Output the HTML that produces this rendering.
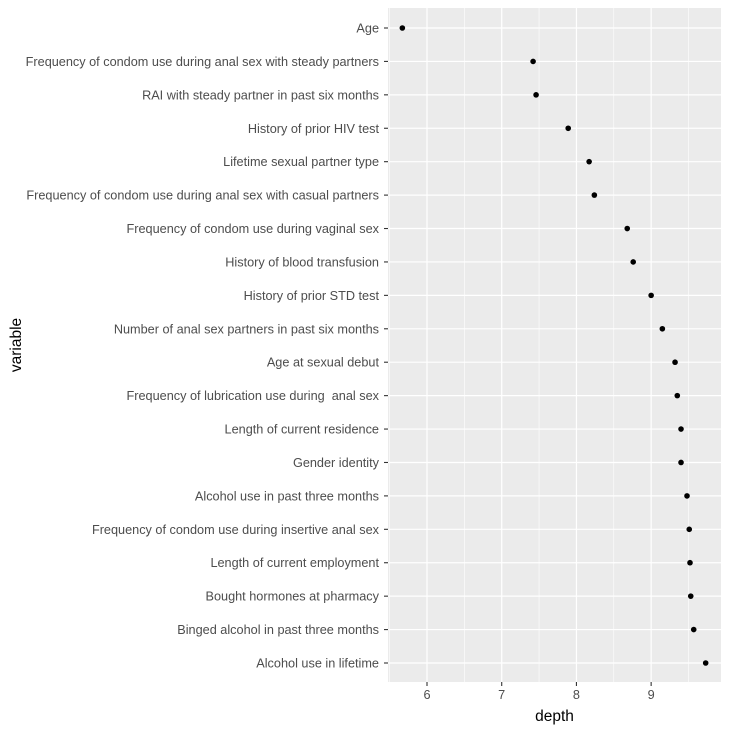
<!DOCTYPE html>
<html><head><meta charset="utf-8"><style>
body{margin:0;background:#fff;font-family:"Liberation Sans",sans-serif}
text{white-space:pre}
</style></head><body>
<svg id="chart" width="729" height="729" xmlns="http://www.w3.org/2000/svg"></svg>
<script>
const categories=["Age","Frequency of condom use during anal sex with steady partners","RAI with steady partner in past six months","History of prior HIV test","Lifetime sexual partner type","Frequency of condom use during anal sex with casual partners","Frequency of condom use during vaginal sex","History of blood transfusion","History of prior STD test","Number of anal sex partners in past six months","Age at sexual debut","Frequency of lubrication use during  anal sex","Length of current residence","Gender identity","Alcohol use in past three months","Frequency of condom use during insertive anal sex","Length of current employment","Bought hormones at pharmacy","Binged alcohol in past three months","Alcohol use in lifetime"];
const depthValues=[5.67,7.42,7.46,7.89,8.17,8.24,8.68,8.76,9.00,9.15,9.32,9.35,9.40,9.40,9.48,9.51,9.52,9.53,9.57,9.73];
const xTicks=[6,7,8,9];
const xMinor=[5.5,6.5,7.5,8.5,9.5];

const svg=document.getElementById('chart');
const NS="http://www.w3.org/2000/svg";
const L=388,R=721,T=8,B=682;
const xMin=5.478,xMax=9.935;
const x=v=>L+(v-xMin)/(xMax-xMin)*(R-L);
const step=(663-28)/(categories.length-1);
const y=i=>28+i*step;
function mk(tag,attrs,parent){const e=document.createElementNS(NS,tag);for(const k in attrs)e.setAttribute(k,attrs[k]);(parent||svg).appendChild(e);return e;}

const panel=mk('rect',{x:L,y:T,width:R-L,height:B-T,fill:'#ebebeb'});



xMinor.forEach(v=>{const g=mk('line',{x1:x(v),x2:x(v),y1:T,y2:B,stroke:'#fff','stroke-width':0.6});

});
xTicks.forEach(v=>{const g=mk('line',{x1:x(v),x2:x(v),y1:T,y2:B,stroke:'#fff','stroke-width':1.2});


const t=mk('line',{x1:x(v),x2:x(v),y1:B,y2:B+4,stroke:'#333','stroke-width':1.1});


const lb=mk('text',{x:x(v),y:B+17,'text-anchor':'middle','font-size':12.7,fill:'#4d4d4d'});lb.textContent=v;

});

categories.forEach((c,i)=>{const g=mk('line',{x1:L,x2:R,y1:y(i),y2:y(i),stroke:'#fff','stroke-width':1.2});


const t=mk('line',{x1:L-4,x2:L,y1:y(i),y2:y(i),stroke:'#333','stroke-width':1.1});


const lb=mk('text',{x:L-9,y:y(i)+4.5,'text-anchor':'end','font-size':12.7,fill:'#4d4d4d'});lb.textContent=c;

});

depthValues.forEach((v,i)=>{const p=mk('circle',{cx:x(v),cy:y(i),r:2.8,fill:'#000'});

});

const xt=mk('text',{x:(L+R)/2,y:721,'text-anchor':'middle','font-size':15.5,fill:'#000'});xt.textContent='depth';


const yt=mk('text',{x:0,y:0,'text-anchor':'middle','font-size':15.5,fill:'#000',transform:`translate(21,${(T+B)/2}) rotate(-90)`});yt.textContent='variable';


</script>
</body></html>
